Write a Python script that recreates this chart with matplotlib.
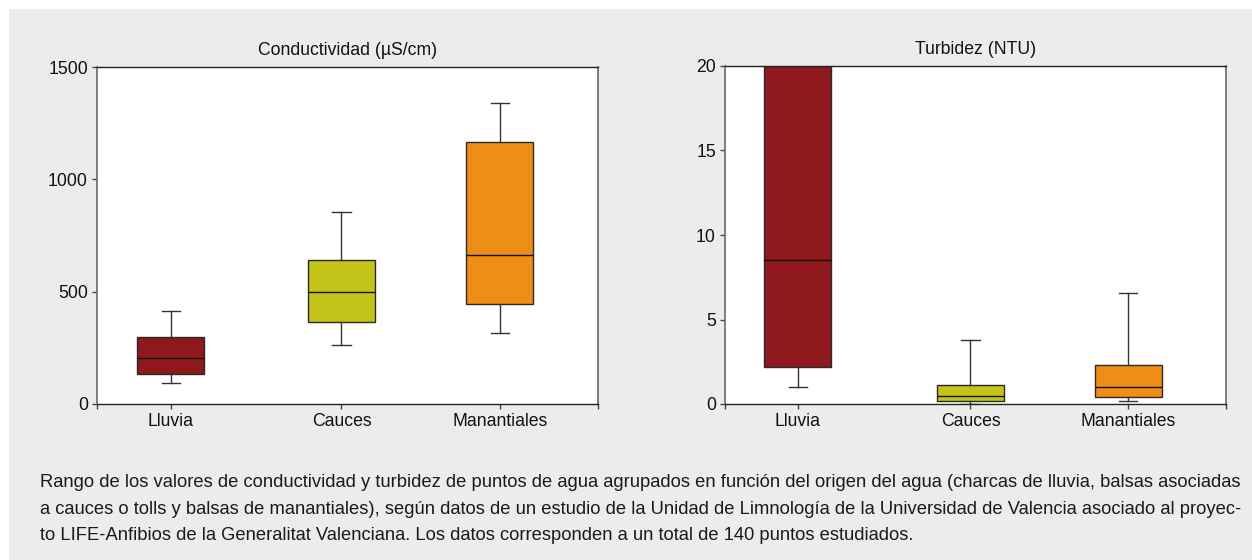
import matplotlib
matplotlib.use("Agg")
import matplotlib.pyplot as plt
from matplotlib.patches import Rectangle

categories = ["Lluvia", "Cauces", "Manantiales"]
colors = ["#8E181C", "#C3C31A", "#EF8E17"]

# Conductividad (µS/cm): whisker low, Q1, median, Q3, whisker high
cond_low = [93, 261, 314]
cond_q1 = [132, 363, 446]
cond_med = [204, 500, 662]
cond_q3 = [299, 641, 1168]
cond_high = [413, 853, 1339]

# Turbidez (NTU)
turb_low = [0.99, 0.0, 0.16]
turb_q1 = [2.17, 0.16, 0.40]
turb_med = [8.54, 0.47, 1.03]
turb_q3 = [20.0, 1.13, 2.29]
turb_high = [20.0, 3.79, 6.54]

titles = ["Conductividad (µS/cm)", "Turbidez (NTU)"]
cond_ticks = [0, 500, 1000, 1500]
turb_ticks = [0, 5, 10, 15, 20]

caption_lines = [
    "Rango de los valores de conductividad y turbidez de puntos de agua agrupados en función del origen del agua (charcas de lluvia, balsas asociadas",
    "a cauces o tolls y balsas de manantiales), según datos de un estudio de la Unidad de Limnología de la Universidad de Valencia asociado al proyec-",
    "to LIFE-Anfibios de la Generalitat Valenciana. Los datos corresponden a un total de 140 puntos estudiados.",
]

plt.rcParams["font.family"] = ["Liberation Sans", "DejaVu Sans"]

W, H = 1252, 560
fig = plt.figure(figsize=(W / 100, H / 100), dpi=100)
fig.patch.set_facecolor("white")
fig.patches.append(Rectangle((9 / W, 0), 1 - 9 / W, 1 - 9 / H, transform=fig.transFigure,
                             facecolor="#EBECEB", edgecolor="none", zorder=-10))

def make_ax(x0, x1, y0, y1):
    return fig.add_axes([x0 / W, 1 - y1 / H, (x1 - x0) / W, (y1 - y0) / H])

ax1 = make_ax(97, 598, 67, 404)
ax2 = make_ax(725, 1226, 66, 404)

positions = [[0.147, 0.488, 0.804], [0.145, 0.490, 0.805]]
datasets = [
    (cond_low, cond_q1, cond_med, cond_q3, cond_high),
    (turb_low, turb_q1, turb_med, turb_q3, turb_high),
]
ylims = [(0, 1500), (0, 20)]
yticks = [cond_ticks, turb_ticks]

for k, ax in enumerate([ax1, ax2]):
    lo, q1, med, q3, hi = datasets[k]
    stats = []
    for i, c in enumerate(categories):
        stats.append(dict(label=c, whislo=lo[i], q1=q1[i], med=med[i], q3=q3[i], whishi=hi[i], fliers=[]))
    bp = ax.bxp(stats, positions=positions[k], widths=0.134, patch_artist=True,
                showfliers=False,
                boxprops=dict(edgecolor="#2a2a2a", linewidth=1.0),
                medianprops=dict(color="#111111", linewidth=1.0),
                whiskerprops=dict(color="#333333", linewidth=1.0),
                capprops=dict(color="#333333", linewidth=1.0),
                capwidths=0.036)
    for patch, col in zip(bp["boxes"], colors):
        patch.set_facecolor(col)
    ax.set_xlim(0, 1)
    ax.set_ylim(*ylims[k])
    ax.set_yticks(yticks[k])
    ax.set_xticks(positions[k])
    ax.set_xticklabels(categories)
    ax.set_xticks([0, 1], minor=True)
    ax.tick_params(axis="both", which="both", direction="out", length=3.5, width=1,
                   color="#444444", labelsize=12.7, pad=3, labelcolor="#111111")
    ax.set_facecolor("white")
    for side in ["left", "right"]:
        ax.spines[side].set_color("#6a6a6a")
        ax.spines[side].set_linewidth(1.2)
    for side in ["top", "bottom"]:
        ax.spines[side].set_color("#222222")
        ax.spines[side].set_linewidth(1.0)
    ax.set_title(titles[k], fontsize=12.7, pad=8.5, color="#111111")

for j, line in enumerate(caption_lines):
    y = 487 + j * 26.5
    fig.text(40 / W, 1 - y / H, line, ha="left", va="baseline", fontsize=13.25,
             color="#1a1a1a")

fig.savefig("out.png", dpi=100, facecolor=fig.get_facecolor())
